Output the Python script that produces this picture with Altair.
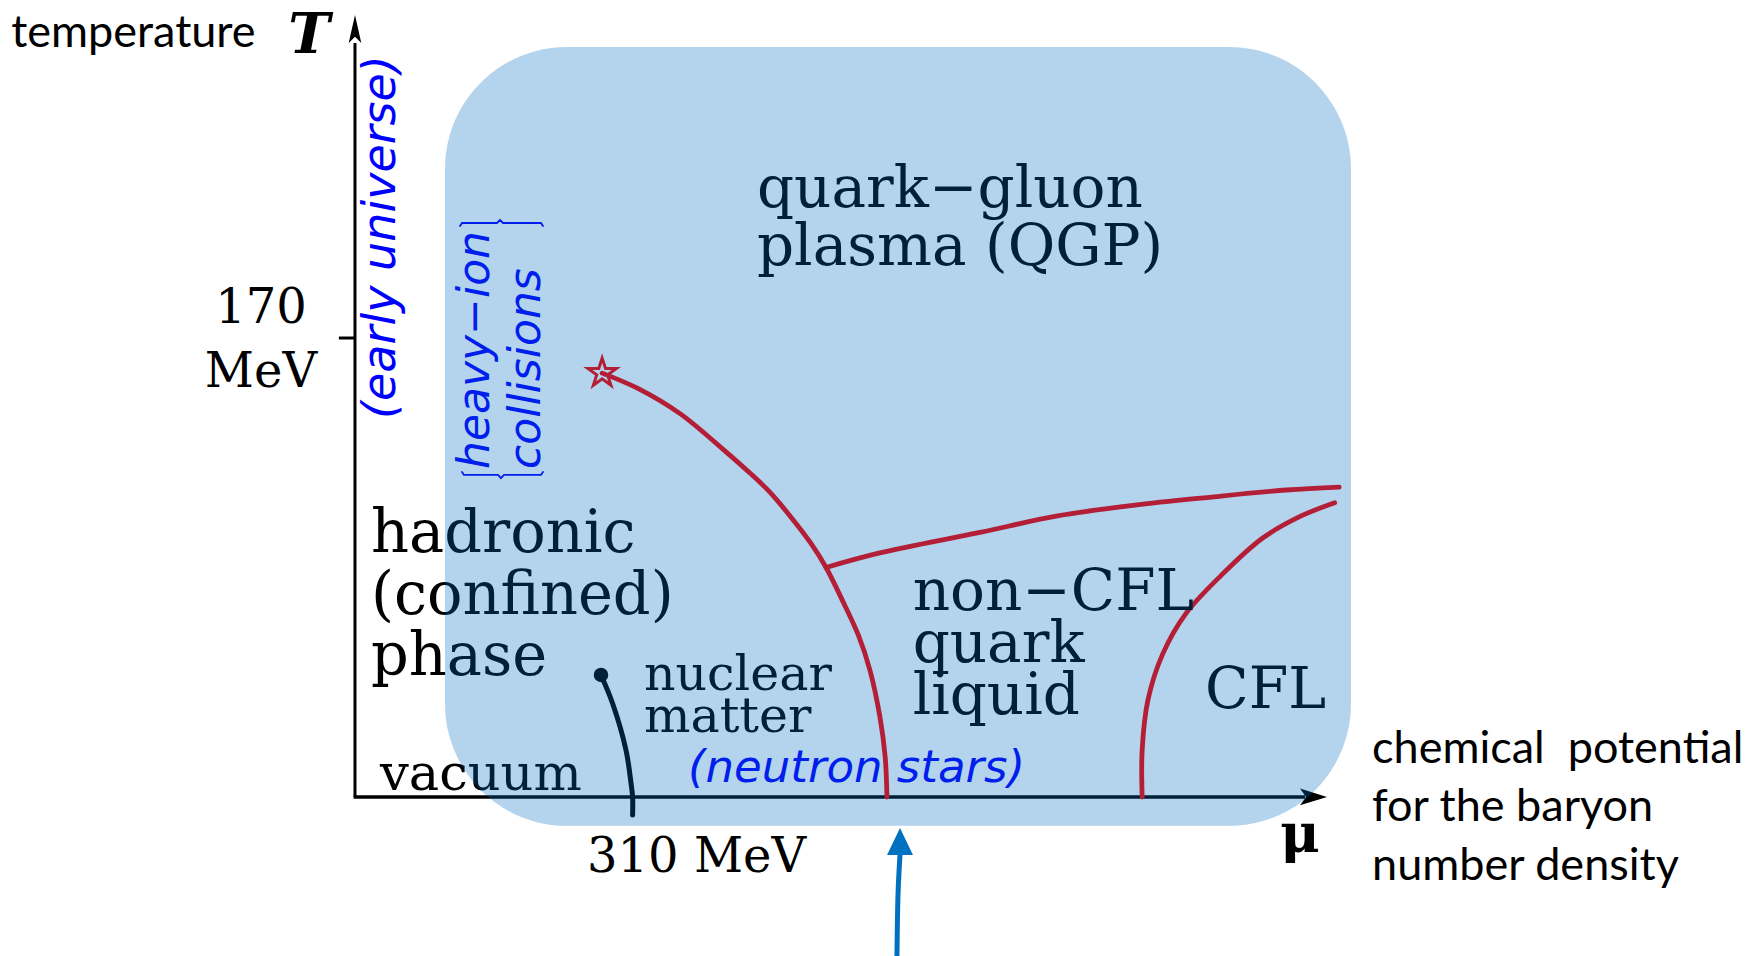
import altair as alt
import pandas as pd

# ------------------------------------------------------------------ data (MeV)
# first-order hadron / quark-matter transition, critical end point down to T = 0
HQ_MU = [276, 318, 363, 412, 441, 463, 486, 509, 526, 544, 562, 575, 586, 592, 594]
HQ_T = [157, 151, 142, 128.5, 120, 113, 104, 94, 85, 73, 60, 47, 30, 15, 0]
# quark-gluon plasma / non-CFL quark liquid boundary
QN_MU = [526, 586, 698, 783, 869, 954, 1040, 1099]
QN_T = [85, 90.4, 98, 104, 108, 111, 113.7, 114.8]
# non-CFL / CFL boundary
CFL_MU = [879, 879, 885.5, 902, 928, 967, 1014, 1056, 1094]
CFL_T = [0, 17.4, 36, 53, 68, 82, 96, 104, 109]
# nuclear liquid-gas line (ends at mu = 310 MeV)
NUC_MU = [274.7, 287.5, 302.6, 308.2, 310, 310]
NUC_T = [45.2, 34.8, 17.4, 5.2, 0, -6.7]
# critical end point (star)
CEP_MU, CEP_T = [276], [157]

# axes (arrow tips) and ticks
T_AXIS_TOP = 289.6
T_AXIS_LINE_TOP = 279.3
MU_AXIS_END = 1085.4
MU_AXIS_LINE_END = 1061
T_TICK = 170
T_TICK_LEFT = -18

# shaded box
BOX_MU = [100.5, 1112.2]
BOX_T = [-10.7, 277.8]

# pointer arrow below the axis
ARROW_MU = [605.2, 606.5, 608.6]
ARROW_T = [-58.9, -35, -21.5]
ARROW_TIP_MU, ARROW_TIP_T = 608.6, -11.5

# braces around "heavy-ion collisions"
BRACE1_MU = [117.3, 119.5, 158.6, 161.9, 165.3, 207.7, 209.9]
BRACE1_T = [211.5, 212.6, 212.6, 213.7, 212.6, 212.6, 211.5]
BRACE2_MU = [119.5, 121.7, 159.7, 163.0, 166.4, 207.7, 209.9]
BRACE2_T = [120.4, 119.3, 119.3, 118.1, 119.3, 119.3, 120.4]

# labels: (lines, mu, T)
LBL_TEMPERATURE = (["temperature"], -383.8, 277.8)
LBL_T = (["T"], -51.4, 275.6)
LBL_170 = (["170", "MeV"], -105, 175.6)
LBL_EARLY = (["(early universe)"], 29.0, 207.4)
LBL_HEAVY = (["heavy\u2212ion", "collisions"], 149.6, 121.5)
LBL_QGP = (["quark\u2212gluon", "plasma (QGP)"], 448.9, 218.5)
LBL_HADRON = (["hadronic", "(confined)", "phase"], 17.9, 90.7)
LBL_NUCLEAR = (["nuclear", "matter"], 322.7, 39.6)
LBL_NONCFL = (["non\u2212CFL", "quark", "liquid"], 622.7, 69.3)
LBL_CFL = (["CFL"], 949.2, 33.0)
LBL_VACUUM = (["vacuum"], 27.9, 2.6)
LBL_NEUTRON = (["(neutron stars)"], 371.9, 5.6)
LBL_310 = (["310 MeV"], 259.1, -27.8)
LBL_MU = (["\u03bc"], 1055.3, -20.4)
LBL_CHEM = (["chemical\u00a0 potential", "for the baryon", "number density"], 1135.7, 12.6)

# visible window
MU_VIEW = [-396.4, 1561.1]
T_VIEW = [-58.9, 295.2]

# ------------------------------------------------------------------ helpers
XS = alt.Scale(domain=MU_VIEW, nice=False, zero=False)
YS = alt.Scale(domain=T_VIEW, nice=False, zero=False)

STAR = ("M0,-1 L0.2245,-0.309 L0.951,-0.309 L0.3633,0.118 L0.588,0.809 L0,0.382 "
        "L-0.588,0.809 L-0.3633,0.118 L-0.951,-0.309 L-0.2245,-0.309 Z")


def X(f="mu"):
    return alt.X(f, type="quantitative", scale=XS, axis=None)


def Y(f="T"):
    return alt.Y(f, type="quantitative", scale=YS, axis=None)


def curve(mus, ts, color, width, interp="catmull-rom"):
    df = pd.DataFrame({"mu": mus, "T": ts, "i": list(range(len(mus)))})
    return alt.Chart(df).mark_line(
        color=color, strokeWidth=width, interpolate=interp, strokeCap="round"
    ).encode(x=X(), y=Y(), order=alt.Order("i:Q"))


def text(lbl, **kw):
    lines, mu, t = lbl
    df = pd.DataFrame({"mu": [mu], "T": [t]})
    txt = lines if len(lines) > 1 else lines[0]
    return alt.Chart(df).mark_text(text=txt, **kw).encode(x=X(), y=Y())


def point(mu, t, **kw):
    df = pd.DataFrame({"mu": [mu], "T": [t]})
    return alt.Chart(df).mark_point(opacity=1, **kw).encode(x=X(), y=Y())


SERIF = "DejaVu Serif"
SANS = "DejaVu Sans"
CAL = "Lato"
BLUE = "#0000ff"

layers = []

# axes
layers.append(
    alt.Chart(pd.DataFrame({"mu": [0], "T": [0], "T2": [T_AXIS_LINE_TOP]}))
    .mark_rule(color="black", strokeWidth=3)
    .encode(x=X(), y=Y(), y2="T2")
)
layers.append(
    alt.Chart(pd.DataFrame({"mu": [-1.5], "mu2": [MU_AXIS_LINE_END], "T": [0]}))
    .mark_rule(color="black", strokeWidth=3.4)
    .encode(x=X(), x2="mu2", y=Y())
)
layers.append(
    alt.Chart(pd.DataFrame({"mu": [T_TICK_LEFT], "mu2": [0], "T": [T_TICK]}))
    .mark_rule(color="black", strokeWidth=3)
    .encode(x=X(), x2="mu2", y=Y())
)
layers.append(point(0, T_AXIS_TOP, shape="M0,0 L0.45,2 L0,1.55 L-0.45,2 Z",
                    size=784, filled=True, color="black", strokeWidth=0))
layers.append(point(MU_AXIS_END, 0, shape="M0,0 L-2,-0.62 L-1.55,0 L-2,0.62 Z",
                    size=729, filled=True, color="black", strokeWidth=0))

# phase boundaries
layers.append(curve(HQ_MU, HQ_T, "#ff0000", 4.8))
layers.append(curve(QN_MU, QN_T, "#ff0000", 4.8))
layers.append(curve(CFL_MU, CFL_T, "#ff0000", 4.8))
layers.append(curve(NUC_MU, NUC_T, "black", 5))
layers.append(point(NUC_MU[0], NUC_T[0], shape="circle", size=210, filled=True,
                    color="black", strokeWidth=0))
layers.append(point(CEP_MU[0], CEP_T[0], shape=STAR, size=900, filled=False,
                    color="#ff0000", strokeWidth=3))

# braces
layers.append(curve(BRACE1_MU, BRACE1_T, BLUE, 1.8, "linear"))
layers.append(curve(BRACE2_MU, BRACE2_T, BLUE, 1.8, "linear"))

# labels inside the diagram
layers.append(text(LBL_170, font=SERIF, fontSize=48, align="center",
                   baseline="alphabetic", lineHeight=64, color="black"))
layers.append(text(LBL_EARLY, font=SANS, fontSize=46, fontStyle="italic", align="center",
                   baseline="middle", angle=270, color=BLUE))
layers.append(text(LBL_HEAVY, font=SANS, fontSize=44, fontStyle="italic", align="left",
                   baseline="alphabetic", angle=270, lineHeight=51, color=BLUE))
layers.append(text(LBL_QGP, font=SERIF, fontSize=58, align="left",
                   baseline="alphabetic", lineHeight=58, color="black"))
layers.append(text(LBL_HADRON, font=SERIF, fontSize=59, align="left",
                   baseline="alphabetic", lineHeight=61.5, color="black"))
layers.append(text(LBL_NUCLEAR, font=SERIF, fontSize=49, align="left",
                   baseline="alphabetic", lineHeight=42, color="black"))
layers.append(text(LBL_NONCFL, font=SERIF, fontSize=58, align="left",
                   baseline="alphabetic", lineHeight=52, color="black"))
layers.append(text(LBL_CFL, font=SERIF, fontSize=57, align="left",
                   baseline="alphabetic", color="black"))
layers.append(text(LBL_VACUUM, font=SERIF, fontSize=51, align="left",
                   baseline="alphabetic", color="black"))
layers.append(text(LBL_NEUTRON, font=SANS, fontSize=45, fontStyle="italic", align="left",
                   baseline="alphabetic", color=BLUE))

# translucent quark-matter box on top
layers.append(
    alt.Chart(pd.DataFrame({"mu": [BOX_MU[0]], "mu2": [BOX_MU[1]],
                            "T": [BOX_T[0]], "T2": [BOX_T[1]]}))
    .mark_rect(color="#0069be", opacity=0.294, cornerRadius=122)
    .encode(x=X(), x2="mu2", y=Y(), y2="T2")
)

# outside labels and pointer arrow
layers.append(text(LBL_TEMPERATURE, font=CAL, fontSize=45, align="left",
                   baseline="alphabetic", color="black"))
layers.append(text(LBL_T, font=SERIF, fontSize=56, fontStyle="italic", fontWeight="bold",
                   align="center", baseline="alphabetic", color="black"))
layers.append(text(LBL_310, font=SERIF, fontSize=48, align="left",
                   baseline="alphabetic", color="black"))
layers.append(text(LBL_MU, font=SERIF, fontSize=54, fontWeight="bold", align="center",
                   baseline="alphabetic", color="black"))
layers.append(text(LBL_CHEM, font=CAL, fontSize=45, align="left",
                   baseline="alphabetic", lineHeight=58.5, color="black"))
layers.append(curve(ARROW_MU, ARROW_T, "#0070c0", 5))
layers.append(point(ARROW_TIP_MU, ARROW_TIP_T, shape="M0,0 L0.96,2 L-0.96,2 Z",
                    size=729, filled=True, color="#0070c0", strokeWidth=0))

chart = (
    alt.layer(*layers)
    .properties(width=1753, height=956, autosize=alt.AutoSizeParams(type="none"), padding=0,
                background="white")
    .configure_view(stroke=None)
)

chart.save("out.html", embed_options={"renderer": "svg", "actions": False})
